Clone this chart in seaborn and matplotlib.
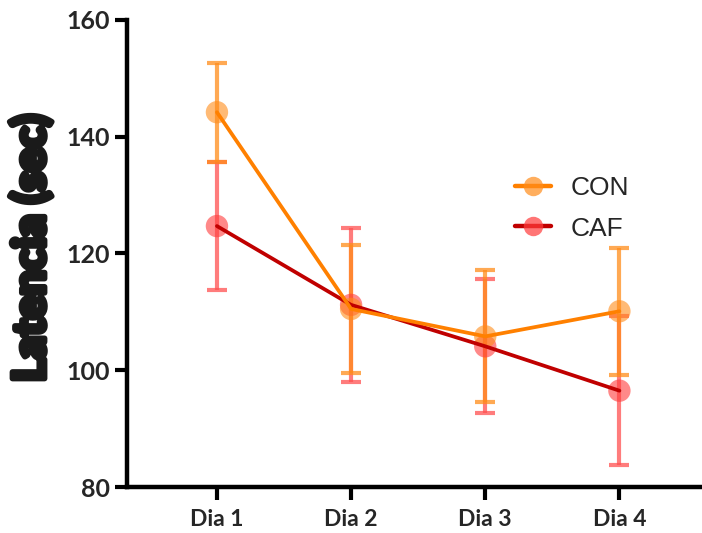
import matplotlib
matplotlib.use("Agg")
import matplotlib.pyplot as plt
import matplotlib.patheffects as pe
from matplotlib.lines import Line2D
import seaborn as sns
import pandas as pd

# Latency per day for each group (mean ± error)
days = ["Dia 1", "Dia 2", "Dia 3", "Dia 4"]
con_mean = [144.2, 110.5, 105.8, 110.1]
con_err = [8.5, 10.9, 11.3, 10.9]
caf_mean = [124.7, 111.2, 104.1, 96.5]
caf_err = [10.9, 13.2, 11.5, 12.8]
groups = ["CON", "CAF"]
y_ticks = [80, 100, 120, 140, 160]

sns.set_style("ticks")
plt.rcParams["font.family"] = ["Lato", "DejaVu Sans"]

fig = plt.figure(figsize=(7.02, 5.33), dpi=100)
ax = fig.add_axes([0.181, 0.0863, 0.816, 0.8762])

style = {
    "CAF": dict(mean=caf_mean, err=caf_err, line="#C00000", dot="#FF3B3B", bar="#FF5050"),
    "CON": dict(mean=con_mean, err=con_err, line="#FF8000", dot="#FF8C1A", bar="#FF8C1A"),
}

x = list(range(len(days)))
for g in ["CAF", "CON"]:
    s = style[g]
    df = pd.DataFrame({"x": x, "y": s["mean"]})
    ax.errorbar(x, s["mean"], yerr=s["err"], fmt="none", ecolor=s["bar"],
                alpha=0.75, elinewidth=3, capsize=7.5, capthick=3, zorder=2)
    sns.scatterplot(data=df, x="x", y="y", ax=ax, s=260, color=s["dot"],
                    alpha=0.6, edgecolor="none", zorder=3, legend=False)
    sns.lineplot(data=df, x="x", y="y", ax=ax, color=s["line"], lw=2.7,
                 zorder=4, legend=False)

ax.set_xlim(-0.67, 3.6)
ax.set_ylim(80, 160)
ax.set_xticks(x)
ax.set_xticklabels(days)
ax.set_yticks(y_ticks)
ax.set_xlabel("")
ax.set_ylabel("")
for lab in ax.get_xticklabels():
    lab.set_fontweight("bold")
    lab.set_fontsize(16.5)
for lab in ax.get_yticklabels():
    lab.set_fontweight("bold")
    lab.set_fontsize(18)
ax.tick_params(axis="both", length=9, width=3, color="black")
ax.tick_params(axis="x", pad=7)
ax.tick_params(axis="y", pad=3)
for side in ["right", "top"]:
    ax.spines[side].set_visible(False)
for side in ["left", "bottom"]:
    ax.spines[side].set_linewidth(3.2)
    ax.spines[side].set_color("black")

ylab = fig.text(0.044, 0.535, "Latencia (sec)", rotation=90, ha="center",
                va="center", fontsize=32, fontweight="black", color="#1a1a1a")
ylab.set_path_effects([pe.withStroke(linewidth=4, foreground="#1a1a1a")])

handles = [
    Line2D([0], [0], color=style[g]["line"], lw=3.2, marker="o", markersize=14,
           markerfacecolor=matplotlib.colors.to_rgba(style[g]["dot"], 0.7),
           markeredgecolor="none")
    for g in groups
]
ax.legend(handles, groups, loc="upper left", bbox_to_anchor=(0.636, 0.716),
          frameon=False, prop={"family": "Liberation Sans", "size": 19},
          handlelength=1.35, labelspacing=0.62, handletextpad=0.75)

fig.savefig("out.png", dpi=100)
